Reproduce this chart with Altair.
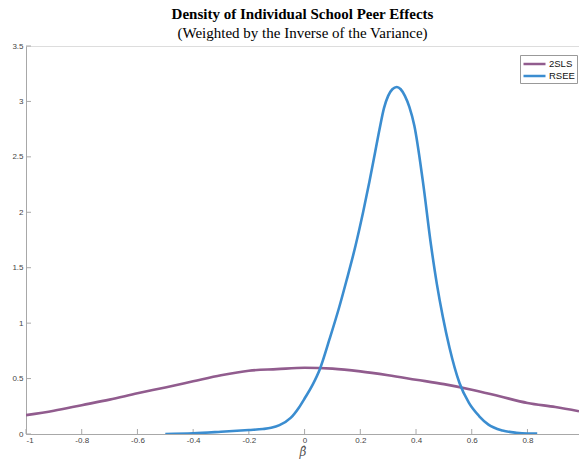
import altair as alt
import pandas as pd

# 2SLS density
x_2sls = [-1.0, -0.9, -0.8, -0.7, -0.6, -0.5, -0.4, -0.3, -0.2, -0.1, 0.0,
          0.1, 0.2, 0.3, 0.4, 0.5, 0.6, 0.7, 0.8, 0.9, 0.985]
y_2sls = [0.17, 0.21, 0.26, 0.31, 0.367, 0.42, 0.475, 0.53, 0.571, 0.585, 0.598,
          0.59, 0.565, 0.53, 0.49, 0.45, 0.40, 0.34, 0.28, 0.243, 0.205]

# RSEE density
x_rsee = [-0.50, -0.40, -0.30, -0.20, -0.15, -0.12, -0.09, -0.05, -0.02, 0.00,
          0.03, 0.054, 0.09, 0.125, 0.15, 0.183, 0.21, 0.233, 0.25, 0.269,
          0.285, 0.30, 0.315, 0.331, 0.345, 0.36, 0.376, 0.394, 0.424, 0.454,
          0.475, 0.496, 0.52, 0.556, 0.59, 0.627, 0.66, 0.71, 0.76, 0.80, 0.835]
y_rsee = [0.0, 0.006, 0.02, 0.036, 0.045, 0.056, 0.08, 0.145, 0.24, 0.32,
          0.45, 0.58, 0.86, 1.15, 1.38, 1.70, 2.00, 2.28, 2.50, 2.75,
          2.94, 3.05, 3.11, 3.13, 3.11, 3.05, 2.95, 2.78, 2.29, 1.70,
          1.35, 1.06, 0.78, 0.46, 0.28, 0.16, 0.085, 0.032, 0.011, 0.004, 0.003]

series_names = ["2SLS", "RSEE"]
series_colors = ["#915C8E", "#3B8DD0"]

x_ticks = [-1, -0.8, -0.6, -0.4, -0.2, 0, 0.2, 0.4, 0.6, 0.8]
y_ticks = [0, 0.5, 1, 1.5, 2, 2.5, 3, 3.5]

W, H = 553, 388
x_dom = [-1, 0.985]
y_dom = [0, 3.5]

df = pd.concat([
    pd.DataFrame({"x": x_2sls, "y": y_2sls, "series": "2SLS", "o": range(len(x_2sls))}),
    pd.DataFrame({"x": x_rsee, "y": y_rsee, "series": "RSEE", "o": range(len(x_rsee))}),
])

xs = alt.Scale(domain=x_dom, nice=False, zero=False)
ys = alt.Scale(domain=y_dom, nice=False, zero=False)

axis_common = dict(
    domainColor="#a8a8a8", domainWidth=1, tickSize=0, grid=False,
    labelFont="Liberation Sans", labelFontSize=8, labelColor="#444444",
    labelExpr="'' + datum.value",
)

lines = alt.Chart(df).mark_line(clip=True, strokeWidth=2.6, interpolate="monotone").encode(
    x=alt.X("x:Q", scale=xs,
            axis=alt.Axis(values=x_ticks, labelPadding=2, title="β̂",
                          titleFont="DejaVu Serif", titleFontSize=12,
                          titleFontStyle="italic", titleFontWeight="normal",
                          titleColor="#555555", titlePadding=2, **axis_common)),
    y=alt.Y("y:Q", scale=ys,
            axis=alt.Axis(values=y_ticks, labelPadding=3, title=None, **axis_common)),
    color=alt.Color("series:N",
                    scale=alt.Scale(domain=series_names, range=series_colors),
                    legend=alt.Legend(title=None, orient="none", legendX=494, legendY=9,
                                      symbolType="M -1 0 L 3 0", symbolSize=121,
                                      symbolStrokeWidth=2.5, labelFont="Liberation Sans",
                                      labelFontSize=9.5, labelColor="#111111",
                                      strokeColor="#999999", padding=2,
                                      rowPadding=0, labelOffset=13,
                                      fillColor="white")),
    order="o:Q",
)

ytick_df = pd.DataFrame({"v": y_ticks})
xtick_df = pd.DataFrame({"v": x_ticks})

yt = alt.Chart(ytick_df).mark_rule(color="#a8a8a8", strokeWidth=1).encode(
    y=alt.Y("v:Q", scale=ys), x=alt.value(0), x2=alt.value(5))
xt = alt.Chart(xtick_df).mark_rule(color="#a8a8a8", strokeWidth=1).encode(
    x=alt.X("v:Q", scale=xs), y=alt.value(H), y2=alt.value(H - 5))

chart = alt.layer(yt, xt, lines).properties(
    width=W, height=H,
    autosize=alt.AutoSizeParams(type="none"),
    padding={"left": 26, "top": 46, "right": 0, "bottom": 27},
    title=alt.TitleParams(
        text="Density of Individual School Peer Effects",
        subtitle="(Weighted by the Inverse of the Variance)",
        font="Liberation Serif", fontSize=15, fontWeight="bold", color="#000000",
        subtitleFont="Liberation Serif", subtitleFontSize=15, subtitleColor="#000000",
        subtitlePadding=4, anchor="middle", offset=1,
    ),
).configure_view(stroke=None).configure(background="white")

chart.save("out.html", embed_options={"renderer": "svg", "actions": False})
